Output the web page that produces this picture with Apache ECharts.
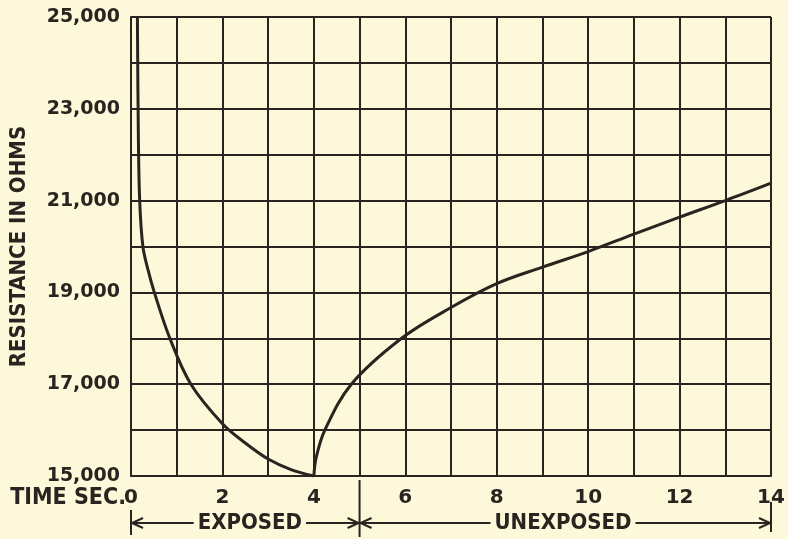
<!DOCTYPE html>
<html>
<head>
<meta charset="utf-8">
<script src="https://cdn.jsdelivr.net/npm/echarts@6/dist/echarts.min.js"></script>
<style>
  html, body { margin: 0; padding: 0; background: #fcf8d9; }
  #main { width: 788px; height: 539px; }
</style>
</head>
<body>
<div id="main"></div>
<script>
// exposed part: resistance falls while light is on
const exposedTime = [0.14, 0.16, 0.19, 0.26, 0.37, 0.51, 0.85, 1.31, 2.0, 2.5, 3.0, 3.5, 4.0];
const exposedOhms = [25000, 22500, 21000, 20000, 19500, 19000, 18000, 17000, 16140, 15720, 15370, 15140, 15000];
// unexposed part: recovery after light is cut
const unexposedTime = [4.0, 4.05, 4.24, 4.82, 5.92, 7, 8, 9, 10, 11, 12, 13, 14];
const unexposedOhms = [15000, 15400, 16000, 17000, 18000, 18670, 19190, 19550, 19890, 20270, 20640, 21000, 21380];
// spans under the axis
const spanNames = ["EXPOSED", "UNEXPOSED"];
const spanStart = [0, 5];
const spanEnd = [5, 14];
const spanLabelAt = [2.6, 9.45];

const ink = "#2a2420";
const paper = "#fcf8d9";

const toPairs = (xs, ys) => xs.map((x, i) => [x, ys[i]]);

const chartDom = document.getElementById("main");
const myChart = echarts.init(chartDom);

const option = {
  backgroundColor: paper,
  animation: false,
  grid: { left: 128, right: 17, top: 17, bottom: 63 },
  xAxis: {
    type: "value",
    min: 0,
    max: 14,
    interval: 1,
    axisLine: { show: true, lineStyle: { color: ink, width: 2 } },
    axisTick: { show: false },
    splitLine: { show: true, lineStyle: { color: ink, width: 2 } },
    axisLabel: {
      margin: 12,
      color: ink,
      fontFamily: "DejaVu Sans",
      fontWeight: "bold",
      fontSize: 20,
      formatter: (v) => (v % 2 === 0 ? String(v) : ""),
    },
  },
  yAxis: {
    type: "value",
    min: 15000,
    max: 25000,
    interval: 1000,
    name: "RESISTANCE IN OHMS",
    nameLocation: "middle",
    nameGap: 101,
    nameTextStyle: {
      color: ink,
      fontFamily: "DejaVu Sans Condensed",
      fontWeight: "bold",
      fontSize: 22,
    },
    axisLine: { show: true, lineStyle: { color: ink, width: 2 } },
    axisTick: { show: false },
    splitLine: { show: true, lineStyle: { color: ink, width: 2 } },
    axisLabel: {
      margin: 11,
      color: ink,
      fontFamily: "DejaVu Sans",
      fontWeight: "bold",
      fontSize: 19,
      formatter: (v) => ((v - 15000) % 2000 === 0 ? v.toLocaleString("en-US") : ""),
    },
  },
  series: [
    {
      name: "exposed",
      type: "line",
      data: toPairs(exposedTime, exposedOhms),
      smooth: 0.35,
      showSymbol: false,
      lineStyle: { color: ink, width: 3 },
    },
    {
      name: "unexposed",
      type: "line",
      data: toPairs(unexposedTime, unexposedOhms),
      smooth: 0.35,
      showSymbol: false,
      lineStyle: { color: ink, width: 3 },
    },
  ],
};
myChart.setOption(option);

// annotations below the axis, placed from data x positions
const px = (x) => myChart.convertToPixel({ gridIndex: 0 }, [x, 15000]);
const base = px(0)[1];
const arrowY = base + 47;
const lineStyle = { stroke: ink, lineWidth: 2 };
const graphics = [];

graphics.push({
  type: "text",
  x: px(0)[0] - 5,
  y: base + 22,
  style: {
    text: "TIME SEC.",
    fill: ink,
    font: "bold 23px 'DejaVu Sans Condensed'",
    align: "right",
    verticalAlign: "middle",
  },
});

spanNames.forEach((name, i) => {
  const x1 = px(spanStart[i])[0] + 1;
  const x2 = px(spanEnd[i])[0] - 1;
  graphics.push({ type: "line", shape: { x1: x1, y1: arrowY, x2: x2, y2: arrowY }, style: lineStyle });
  graphics.push({
    type: "polyline",
    shape: { points: [[x1 + 11, arrowY - 5], [x1, arrowY], [x1 + 11, arrowY + 5]] },
    style: lineStyle,
  });
  graphics.push({
    type: "polyline",
    shape: { points: [[x2 - 11, arrowY - 5], [x2, arrowY], [x2 - 11, arrowY + 5]] },
    style: lineStyle,
  });
  graphics.push({
    type: "text",
    x: px(spanLabelAt[i])[0],
    y: arrowY,
    style: {
      text: name,
      fill: ink,
      font: "bold 22px 'DejaVu Sans Condensed'",
      align: "center",
      verticalAlign: "middle",
      backgroundColor: paper,
      padding: [0, 4],
    },
  });
});

// divider ticks at 0, 5 and 14
[[0, 34, 59], [5, 4, 61], [14, 26, 56]].forEach(([x, a, b]) => {
  const xp = px(x)[0];
  graphics.push({ type: "line", shape: { x1: xp, y1: base + a, x2: xp, y2: base + b }, style: lineStyle });
});

myChart.setOption({ graphic: graphics });
</script>
</body>
</html>
